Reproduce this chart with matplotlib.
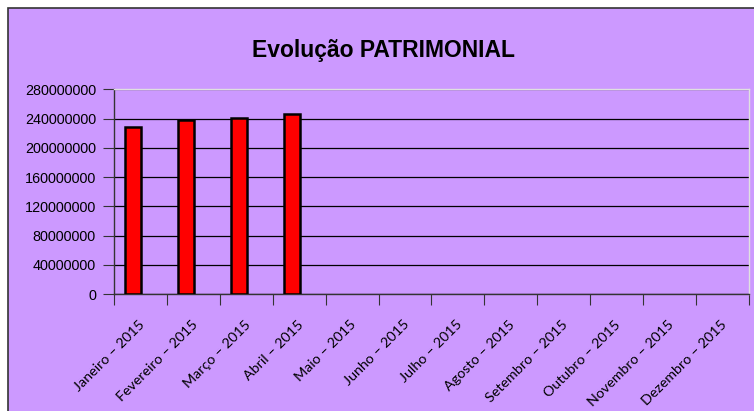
import matplotlib
matplotlib.use("Agg")
import matplotlib.pyplot as plt
import matplotlib.transforms as mtransforms
import numpy as np

months = ["Janeiro – 2015", "Fevereiro – 2015", "Março – 2015", "Abril – 2015",
          "Maio – 2015", "Junho – 2015", "Julho – 2015", "Agosto – 2015",
          "Setembro – 2015", "Outubro – 2015", "Novembro – 2015", "Dezembro – 2015"]
patrimonio = [228000000, 238000000, 241000000, 246000000,
              np.nan, np.nan, np.nan, np.nan, np.nan, np.nan, np.nan, np.nan]
yticks = [0, 40000000, 80000000, 120000000, 160000000, 200000000, 240000000, 280000000]

bg = "#CC99FF"
fig = plt.figure(figsize=(7.54, 4.11), dpi=100)
fig.patch.set_facecolor("white")
# purple chart area with dark border (left and top visible)
fig.patches.append(plt.Rectangle((8/754, -0.05), 1.1, 1.05 - 8/411, transform=fig.transFigure,
                                 facecolor=bg, edgecolor="#333333", linewidth=1.2, zorder=-5))

ax = fig.add_axes([114/754, 1 - 294/411, (749 - 114)/754, (294 - 89.5)/411])
ax.set_facecolor(bg)
ax.set_zorder(2)

x = np.arange(len(months))
ax.bar(x - 0.14, patrimonio, width=0.30, color="#FF0000", edgecolor="black", linewidth=1.8, zorder=3)

ax.set_xlim(-0.5, len(months) - 0.5)
ax.set_ylim(0, 280000000)
ax.set_yticks(yticks)
ax.set_yticklabels([str(v) for v in yticks], fontfamily="Liberation Sans", fontsize=10.4)
ax.yaxis.grid(True, color="black", linewidth=0.9, zorder=1)
ax.set_axisbelow(True)

ax.set_xticks(np.arange(len(months) + 1) - 0.5, minor=False)
ax.set_xticklabels([])
ax.set_xticks(x, minor=True)
ax.set_xticklabels(months, minor=True, rotation=45, ha="right", va="center",
                   rotation_mode="anchor", fontfamily="Lato", fontsize=10.3)
ax.tick_params(axis="x", which="minor", length=0, pad=20.5)
ax.tick_params(axis="x", which="major", length=8, direction="out", color="#333333")
ax.tick_params(axis="y", length=8, direction="out", color="#333333", pad=5)

offset = mtransforms.ScaledTranslation(2/100, 0, fig.dpi_scale_trans)
for lbl in ax.get_xticklabels(minor=True):
    lbl.set_transform(lbl.get_transform() + offset)

for s in ["top", "right"]:
    ax.spines[s].set_color("#E0E0E0")
    ax.spines[s].set_linewidth(1.0)
for s in ["left", "bottom"]:
    ax.spines[s].set_color("#333333")
    ax.spines[s].set_linewidth(1.0)

fig.text(383/754, 1 - 50/411, "Evolução PATRIMONIAL", ha="center", va="center",
         fontfamily="Liberation Sans", fontweight="bold", fontsize=16.5)

fig.savefig("out.png", dpi=100, facecolor=fig.get_facecolor())
